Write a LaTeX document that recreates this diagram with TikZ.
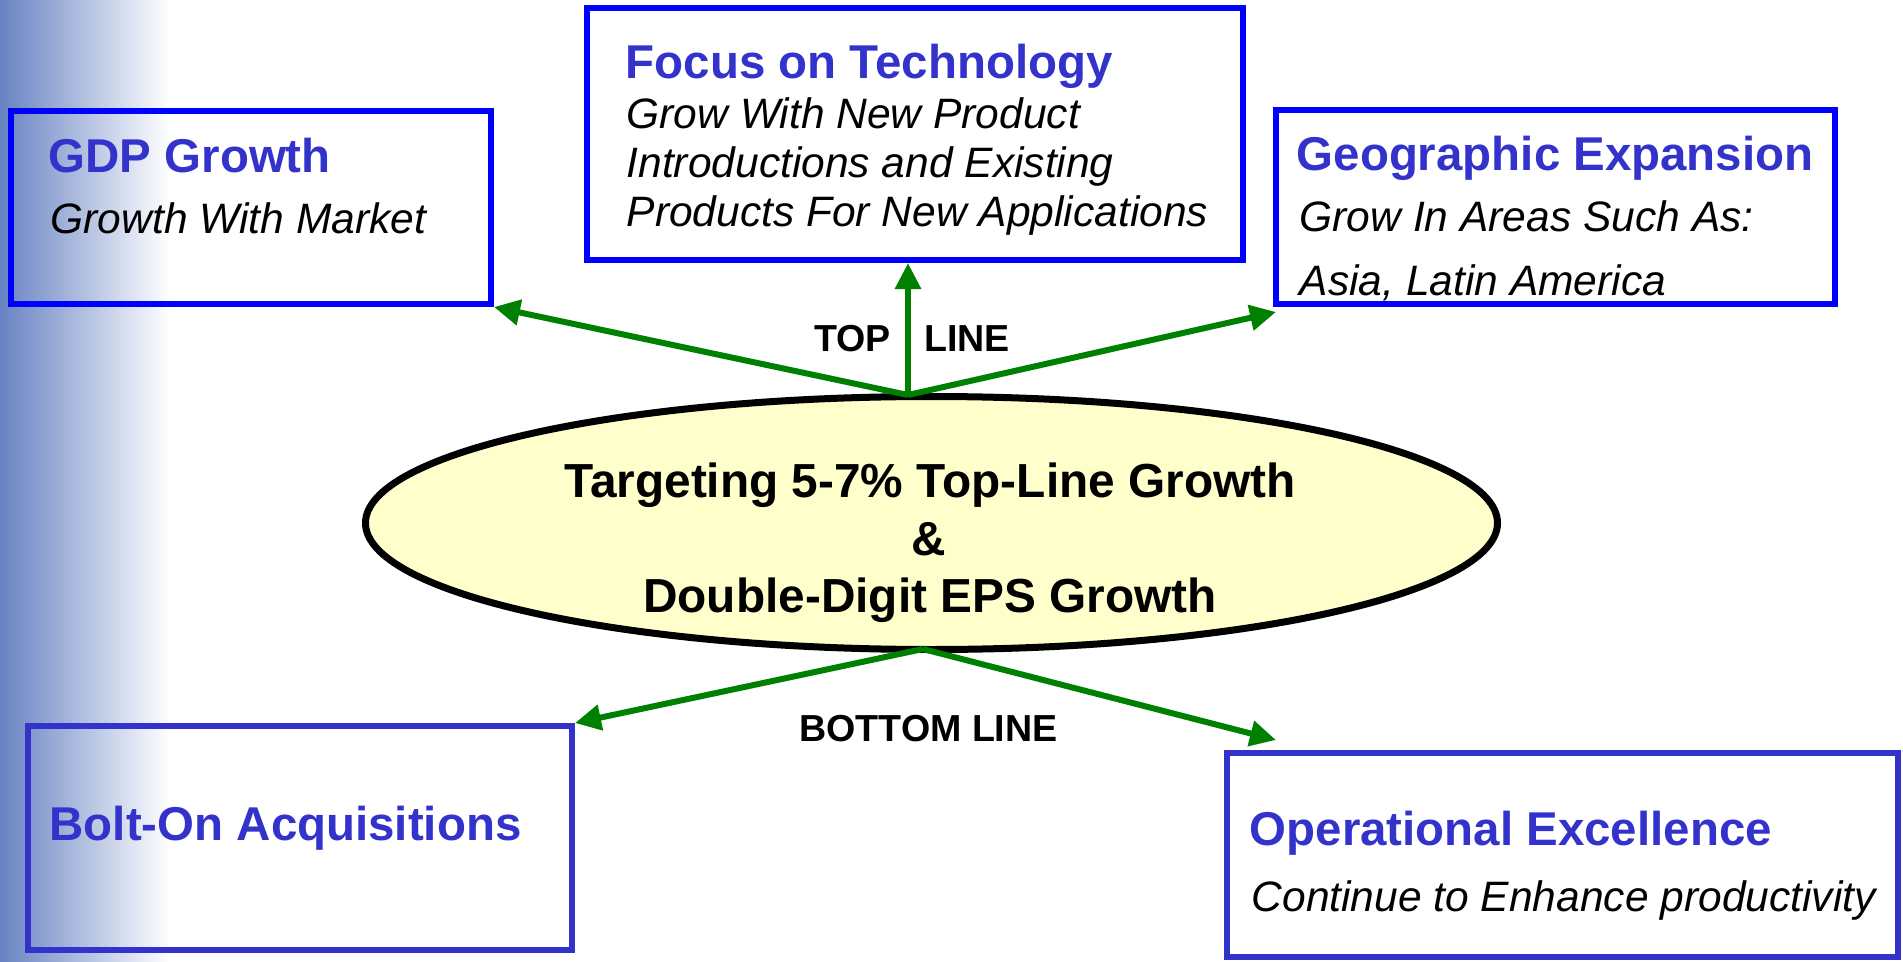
\documentclass[tikz,border=0pt]{standalone}
\usepackage{fontspec}
\setmainfont{Liberation Sans}
\usepackage{tikz}
\usetikzlibrary{shapes.geometric,arrows.meta,calc}
\definecolor{bgblue}{RGB}{104,131,194}
\definecolor{ttlblue}{RGB}{51,51,204}
\definecolor{arrgreen}{RGB}{0,128,0}
\definecolor{goalfill}{RGB}{255,255,204}

\begin{document}
\begin{tikzpicture}[x=1mm,y=-1mm,
		box/.style={rectangle,line width=0.6mm,inner sep=0pt},
		ttl/.style={anchor=base west,inner sep=0pt,text=ttlblue,font=\bfseries\fontsize{13.5}{16}\selectfont},
		sub/.style={anchor=base west,inner sep=0pt,font=\itshape\fontsize{12.1}{14}\selectfont},
		goaltxt/.style={anchor=base,inner sep=0pt,font=\bfseries\fontsize{13.6}{16}\selectfont},
		lbl/.style={anchor=base,inner sep=0pt,font=\bfseries\fontsize{10.7}{13}\selectfont},
		greenarrow/.style={draw=arrgreen,line width=0.6mm,-{Triangle[length=2.6mm,width=2.5mm]}}]
		\useasboundingbox (0,0) rectangle (190.3,96.2);
		%background
		\shade[left color=bgblue,right color=white] (0,0) rectangle (17,96.2);
		
		%boxes
		\node[box,draw=blue,minimum width=48mm,minimum height=19.3mm] (gdp) at (25.1,20.75) {};
		\node[box,draw=blue,minimum width=65.6mm,minimum height=25.2mm] (focus) at (91.5,13.4) {};
		\node[box,draw=blue,minimum width=55.9mm,minimum height=19.4mm] (geo) at (155.55,20.7) {};
		\node[box,draw=ttlblue,minimum width=54.4mm,minimum height=22.4mm] (bolt) at (30,83.8) {};
		\node[box,draw=ttlblue,minimum width=67.1mm,minimum height=20.4mm] (oper) at (156.25,85.5) {};
		
		%box texts
		\node[ttl] (gdpT) at (4.8,17.3) {GDP Growth};
		\node[sub] (gdpS) at (5.0,23.3) {Growth With Market};
		
		\node[ttl] (focusT) at (62.5,7.9) {Focus on Technology};
		\node[sub] (focusS1) at (62.6,12.9) {Grow With New Product};
		\node[sub] (focusS2) at (62.6,17.7) {Introductions and Existing};
		\node[sub] (focusS3) at (62.6,22.7) {Products For New Applications};
		
		\node[ttl] (geoT) at (129.6,17.1) {Geographic Expansion};
		\node[sub] (geoS1) at (129.9,23.2) {Grow In Areas Such As:};
		\node[sub] (geoS2) at (129.9,29.5) {Asia, Latin America};
		
		\node[ttl] (boltT) at (4.9,84.0) {Bolt-On Acquisitions};
		
		\node[ttl] (operT) at (124.9,84.5) {Operational Excellence};
		\node[sub] (operS) at (125.1,91.1) {Continue to Enhance productivity};
		
		%goal
		\node[ellipse,draw=black,fill=goalfill,line width=0.7mm,minimum width=113.2mm,minimum height=25.3mm,inner sep=0pt] (goal) at (93.15,52.3) {};
		\node[goaltxt] (goal1) at (93.0,49.7) {Targeting 5-7\% Top-Line Growth};
		\node[goaltxt] (goal2) at (92.9,55.5) {\&};
		\node[goaltxt] (goal3) at (93.0,61.2) {Double-Digit EPS Growth};
		
		%top line
		\coordinate (topfork) at ([xshift=-2.35mm,yshift=-0.2mm]goal.north);
		\draw[greenarrow] (topfork) -- (gdp.south east);
		\draw[greenarrow] (topfork) -- (topfork |- focus.south);
		\draw[greenarrow] (topfork) -- ([xshift=0.3mm,yshift=-0.5mm]geo.south west);
		\node[lbl] (toplbl) at (85.25,35.1) {TOP};
		\node[lbl] (linelbl) at (96.7,35.1) {LINE};
		
		%bottom line
		\coordinate (botfork) at ([xshift=-0.85mm,yshift=0.4mm]goal.south);
		\draw[greenarrow] (botfork) -- (bolt.north east);
		\draw[greenarrow] (botfork) -- ([xshift=5.2mm,yshift=1mm]oper.north west);
		\node[lbl] (botlbl) at (92.85,74.1) {BOTTOM LINE};
		
\end{tikzpicture}
\end{document}
